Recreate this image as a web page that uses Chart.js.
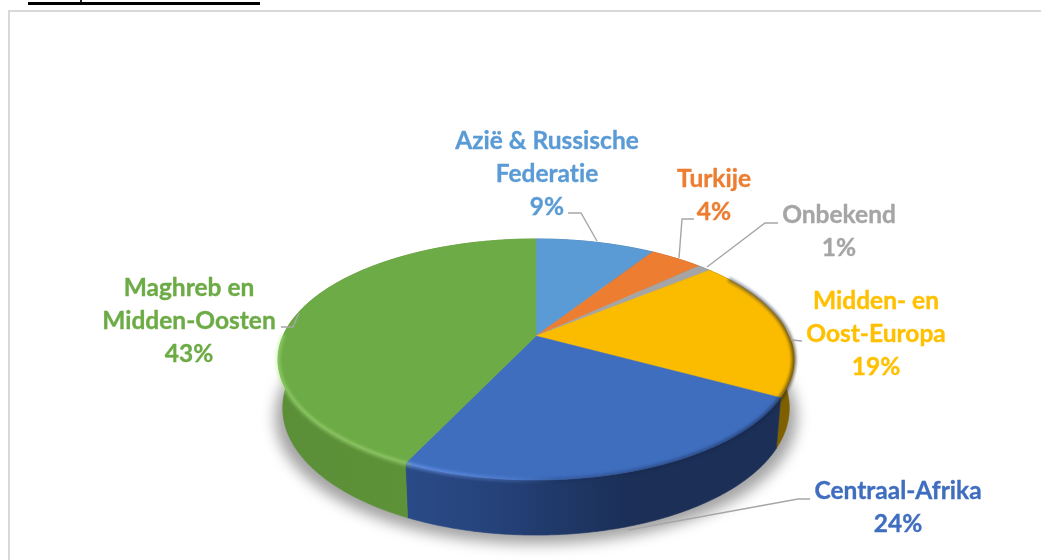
<!DOCTYPE html>
<html><head><meta charset="utf-8">
<script src="https://cdn.jsdelivr.net/npm/chart.js@4"></script>
<style>
html,body{margin:0;padding:0;background:#fff;overflow:hidden}
#wrap{position:relative;width:1041px;height:560px;overflow:hidden}
#frame{position:absolute;left:8px;top:10px;width:1100px;height:700px;border:2px solid #d9d9d9;box-sizing:border-box}
#rule{position:absolute;left:28px;top:2px;width:232px;height:3px;background:#000}
#speck{position:absolute;left:80px;top:0;width:2px;height:2px;background:#222}
canvas{position:absolute;left:0;top:0}
</style></head><body>
<div id="wrap"><div id="frame"></div><div id="rule"></div><div id="speck"></div><canvas id="c" width="1041" height="560"></canvas></div>
<script>
const categories = ['Azië & Russische Federatie','Turkije','Onbekend','Midden- en Oost-Europa','Centraal-Afrika','Maghreb en Midden-Oosten'];
const values = [9,4,1,19,24,43];
const colors = ['#5B9BD5','#ED7D31','#A5A5A5','#FBBC00','#3F6EBF','#6DAB46'];
const sideLeft = ['#3d6f9e','#a85520','#777','#9a7400','#33599e','#5a8f38'];
const sideMid  = ['#3d6f9e','#a85520','#777','#8f6c00','#25427a','#5f9438'];
const sideRight= ['#3d6f9e','#a85520','#777','#7f6000','#1b2f57','#5a8b33'];
const labelLines = [['Azië & Russische','Federatie','9%'],['Turkije','4%'],['Onbekend','1%'],['Midden- en','Oost-Europa','19%'],['Centraal-Afrika','24%'],['Maghreb en','Midden-Oosten','43%']];
const labelX = [547,714,839,876,898,189];
const labelY = [149,187,223,309,499,296];
const leaders = [
 [[568,213],[581,213],[597,241]],
 [[694,219],[682,219],[679,258]],
 [[778,223],[765,223],[707,267]],
 [[802,341],[792,340],[785,325]],
 [[810,499],[798,499],[628,530]],
 [[281,327],[293,327],[299,313]]
];
const K=0.195, XS=253/224, YS=116/224;
function proj(a,ang,h){
  const t=ang+Math.PI/2,u=Math.sin(t),s=-Math.cos(t),w=1-K*s,R=a.outerRadius;
  return [a.x+XS*R*u/w*(1-0.018*h), a.y+YS*R*s/w+h*(47+8*s)];
}
function arcPts(a,start,end,h){
  const n=Math.max(2,Math.ceil((end-start)/0.01)),p=[];
  for(let i=0;i<=n;i++)p.push(proj(a,start+(end-start)*i/n,h));
  return p;
}
function trace(ctx,pts,move=true){pts.forEach((q,i)=>(i===0&&move)?ctx.moveTo(q[0],q[1]):ctx.lineTo(q[0],q[1]));}
const pie3d={id:'pie3d',
 beforeDatasetDraw(chart,args){
  const ctx=chart.ctx,els=chart.getDatasetMeta(args.index).data,a0=els[0];
  const F=-Math.PI/2;
  ctx.save();
  ctx.filter='blur(7px)';
  ctx.fillStyle='rgba(0,0,0,0.36)';
  ctx.beginPath();
  arcPts(a0,F,F+2*Math.PI,1).forEach((q,i)=>{const x=q[0]+(q[0]-536)*0.03,y=q[1]+9;i?ctx.lineTo(x,y):ctx.moveTo(x,y);});
  ctx.closePath();ctx.fill();
  ctx.restore();
  els.forEach((el,i)=>{
    const top=arcPts(el,el.startAngle,el.endAngle,0),bot=arcPts(el,el.startAngle,el.endAngle,1).reverse();
    const g=ctx.createLinearGradient(270,0,800,0);
    g.addColorStop(0,sideLeft[i]);g.addColorStop(0.42,sideMid[i]);g.addColorStop(0.68,sideRight[i]);g.addColorStop(1,sideRight[i]);
    ctx.fillStyle=g;ctx.strokeStyle=g;ctx.lineWidth=0.6;
    ctx.beginPath();trace(ctx,top);trace(ctx,bot,false);ctx.closePath();ctx.fill();ctx.stroke();
  });
  els.forEach((el,i)=>{
    ctx.fillStyle=el.options.backgroundColor;ctx.strokeStyle=el.options.backgroundColor;ctx.lineWidth=0.5;
    ctx.beginPath();ctx.moveTo(el.x,el.y);trace(ctx,arcPts(el,el.startAngle,el.endAngle,0),false);ctx.closePath();ctx.fill();ctx.stroke();
  });
  const rimStart=-Math.PI/2+1.0, rimEnd=-Math.PI/2+4.72;
  ctx.save();
  ctx.filter='blur(1.8px)';
  const g=ctx.createLinearGradient(278,0,795,0);
  g.addColorStop(0,'rgba(175,235,130,.42)');g.addColorStop(0.25,'rgba(165,220,125,.5)');
  g.addColorStop(0.26,'rgba(120,165,250,.55)');g.addColorStop(0.46,'rgba(120,165,250,.2)');
  g.addColorStop(0.54,'rgba(20,35,70,.22)');g.addColorStop(0.95,'rgba(20,35,70,.5)');g.addColorStop(1,'rgba(60,45,0,.65)');
  ctx.strokeStyle=g;ctx.lineWidth=4.5;ctx.lineCap='butt';
  ctx.beginPath();trace(ctx,arcPts(a0,rimStart,rimEnd,0.0));ctx.stroke();
  ctx.restore();
  return false;
 },
 afterDatasetsDraw(chart){
  const ctx=chart.ctx;
  ctx.save();
  ctx.strokeStyle='#A6A6A6';ctx.lineWidth=1.4;
  leaders.forEach(l=>{ctx.beginPath();trace(ctx,l);ctx.stroke();});
  ctx.font='bold 24.5px Lato';ctx.textAlign='center';ctx.textBaseline='alphabetic';
  ctx.letterSpacing='0.01px';ctx.lineWidth=0.35;ctx.lineJoin='round';
  labelLines.forEach((lines,i)=>{
    const c=colors[i]==='#FBBC00'?'#FFC000':colors[i];
    ctx.fillStyle=c;ctx.strokeStyle=c;
    lines.forEach((t,j)=>{ctx.fillText(t,labelX[i],labelY[i]+j*33);ctx.strokeText(t,labelX[i],labelY[i]+j*33);});
  });
  ctx.restore();
 }
};
new Chart(document.getElementById('c'),{
 type:'pie',
 data:{labels:categories,datasets:[{data:values,backgroundColor:colors,borderWidth:0}]},
 options:{responsive:false,animation:false,
  layout:{padding:{left:312,right:281,top:112,bottom:0}},
  plugins:{legend:{display:false},tooltip:{enabled:false},title:{display:false}}},
 plugins:[pie3d]
});
</script>
</body></html>
